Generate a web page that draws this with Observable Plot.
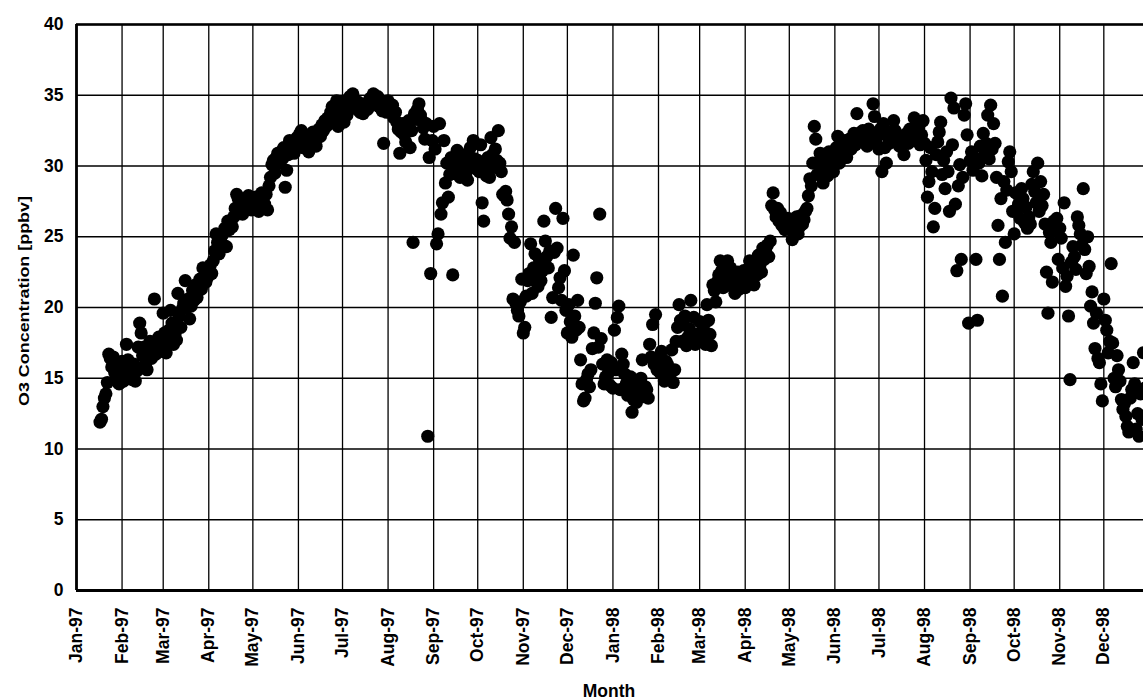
<!DOCTYPE html>
<html>
<head>
<meta charset="utf-8">
<script src="https://cdn.jsdelivr.net/npm/d3@7"></script>
<script src="https://cdn.jsdelivr.net/npm/@observablehq/plot@0.6"></script>
<style>
  html, body { margin: 0; padding: 0; background: #fff; }
  #chart svg { display: block; }
</style>
</head>
<body>
<div id="chart"></div>
<script>
// ---- Data (daily O3) ----
// first day-of-year (0 = 1 Jan) with a value in each year
const start1997 = 16;
const o3_1997 = [
  // Jan (from day 16)
  11.9,12.1,13.0,13.6,13.9,14.7,16.7,16.4,15.8,16.5,15.4,15.0,16.0,14.6,15.6,
  // Feb
  16.2,14.8,15.8,17.4,16.3,15.2,15.8,14.9,16.0,14.8,15.5,17.2,18.9,18.2,16.6,17.2,16.0,15.6,16.8,17.6,16.4,17.0,20.6,16.7,17.4,17.9,16.9,17.5,
  // Mar
  19.6,18.2,16.8,17.6,18.4,19.8,18.9,17.4,18.1,17.7,21.0,19.4,18.6,19.9,20.3,21.9,20.0,20.6,19.2,20.1,21.2,20.5,21.6,20.7,21.4,22.0,21.3,22.8,22.2,21.8,22.1,
  // Apr
  22.6,23.0,22.4,23.3,24.0,25.2,24.6,23.8,24.9,25.1,24.4,25.6,24.3,26.1,25.5,26.0,25.7,26.4,27.0,28.0,27.7,26.8,27.2,26.6,27.5,26.9,27.3,27.9,27.6,26.9,
  // May
  27.4,27.0,27.8,27.2,26.8,27.5,28.1,27.8,27.3,28.0,26.9,28.6,29.2,30.1,30.4,29.5,30.6,30.9,30.2,31.0,30.5,31.3,28.5,29.7,30.8,31.8,31.2,31.6,30.9,31.4,32.0,
  // Jun
  31.5,32.3,32.5,31.3,31.8,32.2,31.6,31.0,31.3,31.9,32.4,31.7,31.4,32.0,32.6,32.1,32.9,32.5,33.2,32.8,33.4,33.0,33.8,34.2,33.7,33.2,34.6,32.8,34.0,33.4,
  // Jul
  34.2,33.1,34.6,33.6,34.4,34.9,34.1,35.1,34.6,34.3,34.0,34.5,33.8,34.2,33.7,34.1,34.4,34.0,34.6,34.8,34.3,35.1,34.7,34.5,34.9,34.2,34.6,33.9,31.6,34.4,33.8,
  // Aug
  34.6,34.2,33.9,34.3,33.4,33.8,33.1,32.6,30.9,32.4,33.0,32.2,31.7,32.8,33.2,31.3,32.5,24.6,33.7,33.3,34.0,34.4,33.6,33.2,32.7,31.9,33.0,10.9,30.6,22.4,31.8,
  // Sep
  32.8,31.2,24.5,25.2,33.0,26.6,27.4,31.8,28.8,30.2,27.8,29.4,30.6,22.3,30.1,29.6,31.1,30.3,29.2,30.8,29.7,30.2,29.5,29.0,30.6,31.3,30.0,31.8,30.5,29.8,
  // Oct
  30.4,29.6,31.5,27.4,26.1,30.0,29.3,30.6,29.2,32.0,30.8,29.9,31.2,30.4,32.5,30.2,29.6,28.0,27.9,28.2,27.6,26.6,24.9,25.7,20.6,24.6,20.3,19.8,19.4,20.4,22.0,
  // Nov
  18.2,18.6,20.8,21.9,22.4,24.5,21.0,22.8,23.8,22.2,21.5,23.4,21.9,22.6,26.1,24.7,23.6,22.8,24.0,19.3,20.7,23.9,27.0,24.2,21.4,22.1,20.5,26.3,22.6,19.8,
  // Dec
  18.2,20.2,19.0,17.9,23.7,19.4,18.4,20.5,18.6,16.3,14.6,13.4,13.6,14.9,15.3,14.4,15.6,17.1,18.2,20.3,22.1,17.2,26.6,17.8,16.0,14.6,15.1,16.3,15.4,14.5,16.1
];
const start1998 = 0;
const o3_1998 = [
  // Jan
  14.3,18.4,15.6,19.3,20.1,14.2,16.7,16.0,15.3,14.6,13.8,14.9,15.1,12.6,13.5,14.1,13.3,14.7,13.9,15.0,16.3,13.7,14.4,14.2,13.6,17.4,16.5,18.8,16.0,19.5,15.6,
  // Feb
  16.5,15.4,16.9,15.8,14.8,16.2,16.0,15.1,15.3,17.0,14.7,15.6,17.6,18.6,20.2,19.1,17.6,18.8,19.4,17.3,17.9,18.5,20.5,18.0,19.3,17.4,18.1,17.6,
  // Mar
  19.0,17.8,18.4,18.8,17.4,20.2,19.1,18.1,17.3,21.6,21.2,20.4,21.8,22.3,23.3,22.6,21.4,22.0,21.7,23.3,22.1,22.8,21.5,22.4,21.0,21.9,22.5,21.3,21.8,22.2,22.6,
  // Apr
  21.4,22.6,21.9,23.3,22.1,22.8,21.6,23.0,22.3,23.7,23.0,22.5,24.2,23.4,23.9,24.4,23.6,24.7,27.2,28.1,26.9,26.4,27.0,26.1,26.7,25.8,26.3,25.5,26.0,26.3,
  // May
  25.6,26.0,24.8,25.3,25.9,26.4,25.2,25.7,26.5,25.9,26.2,26.8,27.0,27.9,29.1,28.6,30.2,32.8,31.9,29.4,30.3,30.9,29.7,28.8,30.5,29.9,29.3,31.0,30.0,30.6,29.6,
  // Jun
  30.4,31.3,32.1,30.2,30.7,31.5,30.9,31.8,30.6,31.4,31.9,31.2,31.6,32.3,31.5,33.7,32.0,31.7,32.4,32.5,31.8,32.2,31.4,32.6,31.9,32.3,34.4,33.5,31.7,32.1,
  // Jul
  31.2,32.6,29.6,33.0,31.3,30.2,32.1,31.6,32.4,31.9,33.2,32.5,31.8,32.2,31.4,32.0,31.5,30.8,31.9,32.3,31.6,32.6,32.1,31.8,33.4,32.4,32.0,32.7,31.5,32.2,33.2,
  // Aug
  31.6,30.4,27.8,28.9,31.3,29.6,25.7,27.0,30.8,31.7,32.4,33.1,29.4,30.4,28.4,31.0,29.6,26.8,34.8,31.5,34.1,27.3,22.6,28.6,30.1,23.4,29.2,33.6,34.4,32.2,18.9,
  // Sep
  30.4,31.0,29.7,30.6,23.4,19.1,30.2,31.4,29.3,32.3,30.8,31.6,33.6,30.5,34.3,31.2,33.0,31.6,29.2,25.8,23.4,27.7,20.8,28.9,24.6,28.3,30.3,31.0,29.6,26.8,
  // Oct
  25.2,28.1,26.9,27.3,26.3,28.4,27.7,26.0,27.1,25.6,26.4,25.9,28.7,29.6,28.2,27.4,30.2,26.8,28.9,27.2,28.0,25.9,22.5,19.6,25.3,24.6,21.8,26.1,25.4,26.3,23.4,
  // Nov
  25.6,24.9,22.8,27.4,21.5,22.2,19.4,14.9,23.2,24.3,23.6,22.7,26.4,25.8,25.2,24.4,28.4,24.1,22.4,25.0,22.9,20.1,21.1,18.9,17.1,19.6,16.4,16.1,14.6,13.4,
  // Dec
  20.6,19.1,18.4,16.8,17.6,23.1,17.5,15.0,14.4,16.6,15.6,14.8,13.5,12.8,13.2,12.3,11.6,11.2,13.6,14.2,16.1,14.6,11.4,12.5,10.9,13.9,12.1,16.8,14.3
];

const yTicks = [0, 5, 10, 15, 20, 25, 30, 35, 40];
const monthLabels = [
  "Jan-97","Feb-97","Mar-97","Apr-97","May-97","Jun-97","Jul-97","Aug-97","Sep-97","Oct-97","Nov-97","Dec-97",
  "Jan-98","Feb-98","Mar-98","Apr-98","May-98","Jun-98","Jul-98","Aug-98","Sep-98","Oct-98","Nov-98","Dec-98"
];
const xLabel = "Month";
const yLabel = "O3 Concentration [ppbv]";

// ---- Build table ----
const monthTicks = monthLabels.map((_, i) => new Date(Date.UTC(1997, i, 1)));
const labelOf = new Map(monthTicks.map((d, i) => [+d, monthLabels[i]]));
const data = [];
o3_1997.forEach((v, i) => data.push({date: new Date(Date.UTC(1997, 0, 1 + start1997 + i)), o3: v}));
o3_1998.forEach((v, i) => data.push({date: new Date(Date.UTC(1998, 0, 1 + start1998 + i)), o3: v}));

const font = '"Liberation Sans", Arial, Helvetica, sans-serif';

const plot = Plot.plot({
  width: 1143,
  height: 700,
  marginLeft: 76,
  marginRight: 0,
  marginTop: 24,
  marginBottom: 110,
  style: {fontFamily: font, background: "#fff", color: "#000", overflow: "hidden"},
  x: {type: "utc", domain: [new Date(Date.UTC(1997, 0, 1)), new Date(Date.UTC(1998, 11, 28))]},
  y: {domain: [0, 40]},
  marks: [
    Plot.ruleY(yTicks, {stroke: "#000", strokeWidth: 1.3}),
    Plot.ruleX(monthTicks, {stroke: "#000", strokeWidth: 1.3}),
    Plot.dot(data, {x: "date", y: "o3", r: 6.6, fill: "#000", stroke: "none"}),
    Plot.ruleX([monthTicks[0]], {stroke: "#000", strokeWidth: 2.8}),
    Plot.ruleY([0], {stroke: "#000", strokeWidth: 3.2}),
    Plot.ruleY([40], {stroke: "#000", strokeWidth: 2.4}),
    Plot.axisY(yTicks, {tickSize: 0, tickPadding: 13, fontSize: 17.5, fontWeight: "bold", label: null}),
    Plot.axisX(monthTicks, {
      tickFormat: d => labelOf.get(+d),
      tickRotate: -90, tickSize: 0, tickPadding: 17,
      fontSize: 17.5, fontWeight: "bold", label: null
    })
  ]
});

const svg = d3.select(plot);
svg.append("text")
  .attr("x", 609).attr("y", 697)
  .attr("text-anchor", "middle")
  .attr("font-family", font).attr("font-size", 17.5).attr("font-weight", "bold")
  .attr("fill", "#000")
  .text(xLabel);
svg.append("text")
  .attr("transform", "translate(29,301) rotate(-90)")
  .attr("text-anchor", "middle")
  .attr("font-family", font).attr("font-size", 14).attr("font-weight", "bold")
  .attr("fill", "#000")
  .attr("textLength", 210).attr("lengthAdjust", "spacingAndGlyphs")
  .text(yLabel);

document.getElementById("chart").appendChild(plot);
</script>
</body>
</html>
